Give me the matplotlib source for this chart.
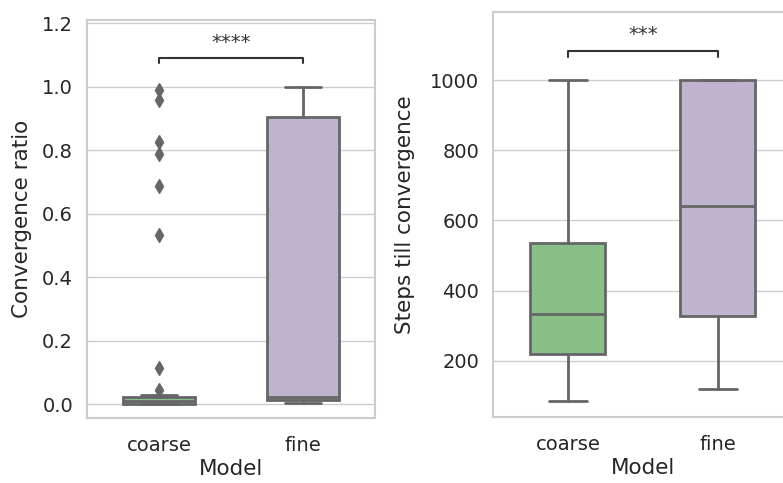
import matplotlib
matplotlib.use("Agg")
import matplotlib.pyplot as plt
import seaborn as sns

# categories and colours
models = ["coarse", "fine"]
box_colors = [sns.desaturate("#7fc97f", 0.75), sns.desaturate("#beaed4", 0.75)]
line_gray = "#666666"

# convergence ratio (left panel)
ratio_whislo = [0.0, 0.002]
ratio_q1 = [0.0, 0.012]
ratio_med = [0.01, 0.023]
ratio_q3 = [0.021, 0.903]
ratio_whishi = [0.030, 1.0]
ratio_fliers = [[0.989, 0.957, 0.826, 0.787, 0.688, 0.531, 0.115, 0.044], []]

# steps till convergence (right panel)
steps_whislo = [85, 119]
steps_q1 = [220, 329]
steps_med = [333, 642]
steps_q3 = [537, 1000]
steps_whishi = [1000, 1000]
steps_fliers = [[], []]

sns.set_theme(style="whitegrid")
plt.rcParams["font.family"] = ["DejaVu Sans"]

fig = plt.figure(figsize=(7.83, 4.83), dpi=100)
ax1 = fig.add_axes([0.1111, 0.1346, 0.3678, 0.824])
ax2 = fig.add_axes([0.6296, 0.1366, 0.3831, 0.8385])


def make_stats(lo, q1, med, q3, hi, fl):
    out = []
    for i in range(len(models)):
        out.append(dict(label=models[i], whislo=lo[i], q1=q1[i], med=med[i],
                        q3=q3[i], whishi=hi[i], fliers=fl[i]))
    return out


def draw(ax, stats):
    art = ax.bxp(stats, positions=range(len(models)), widths=0.5,
                 patch_artist=True, showfliers=True,
                 boxprops=dict(edgecolor=line_gray, linewidth=2),
                 medianprops=dict(color=line_gray, linewidth=2),
                 whiskerprops=dict(color=line_gray, linewidth=2),
                 capprops=dict(color=line_gray, linewidth=2),
                 flierprops=dict(marker="d", markerfacecolor=line_gray,
                                 markeredgecolor=line_gray, markersize=7))
    for patch, c in zip(art["boxes"], box_colors):
        patch.set_facecolor(c)
    ax.set_xlim(-0.5, 1.5)
    ax.set_xticks(range(len(models)))
    ax.set_xticklabels(models)
    ax.set_xlabel("Model", fontsize=15.5, color="#262626", labelpad=3)
    ax.tick_params(axis="y", labelsize=14, pad=10, colors="#262626", length=0)
    ax.tick_params(axis="x", labelsize=14, pad=13, colors="#262626", length=0)
    ax.grid(axis="x", visible=False)
    for s in ax.spines.values():
        s.set_color("#cccccc")
        s.set_linewidth(1.5)


def bracket(ax, y0, y1, ty, text):
    ax.plot([0, 0, 1, 1], [y0, y1, y1, y0], color="#333333", lw=1.5)
    ax.text(0.5, ty, text, ha="center", va="center", fontsize=14, color="#333333")


draw(ax1, make_stats(ratio_whislo, ratio_q1, ratio_med, ratio_q3, ratio_whishi, ratio_fliers))
ax1.set_ylim(-0.044, 1.21)
ax1.set_yticks([0.0, 0.2, 0.4, 0.6, 0.8, 1.0, 1.2])
ax1.set_ylabel("Convergence ratio", fontsize=15.5, color="#262626", labelpad=7)
bracket(ax1, 1.073, 1.091, 1.14, "****")

draw(ax2, make_stats(steps_whislo, steps_q1, steps_med, steps_q3, steps_whishi, steps_fliers))
ax2.set_ylim(40, 1194)
ax2.set_yticks([200, 400, 600, 800, 1000])
ax2.set_ylabel("Steps till convergence", fontsize=15.5, color="#262626", labelpad=11)
bracket(ax2, 1065, 1083, 1130, "***")

fig.savefig("out.png", dpi=100)
